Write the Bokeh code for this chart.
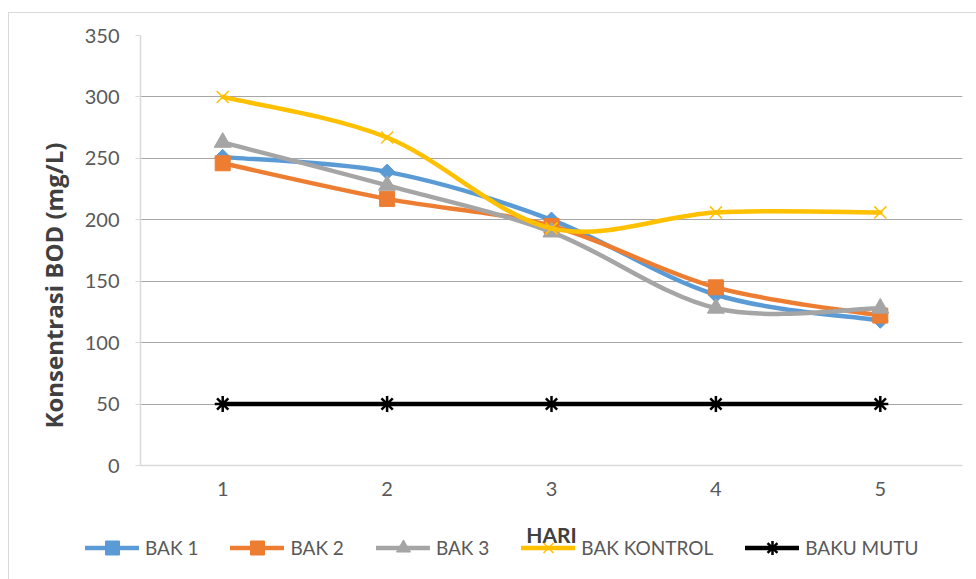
from bokeh.plotting import figure
from bokeh.layouts import column
from bokeh.models import Range1d, FixedTicker, Legend, LegendItem, Title, Label
from bokeh.embed import file_html
from bokeh.resources import INLINE

# Days of observation
hari = [1, 2, 3, 4, 5]

# BOD concentration (mg/L) per tank
bak_1 = [251, 239, 200, 139, 118]
bak_2 = [246, 217, 195, 145, 122]
bak_3 = [263, 228, 190, 128, 128]
bak_kontrol = [300, 267, 193, 206, 206]
baku_mutu = [50, 50, 50, 50, 50]

y_ticks = [0, 50, 100, 150, 200, 250, 300, 350]

FONT = "Lato"
TXT = "#595959"
TITLE_TXT = "#404040"

p = figure(width=967, height=497, output_backend="svg", toolbar_location=None,
           x_range=Range1d(0.5, 5.5), y_range=Range1d(0, 350),
           min_border_left=131, min_border_right=14, min_border_top=22,
           min_border_bottom=45)
p.outline_line_color = None
p.background_fill_color = "white"
p.border_fill_color = "white"

# axes
p.xaxis.ticker = FixedTicker(ticks=hari)
p.yaxis.ticker = FixedTicker(ticks=y_ticks)
for ax in (p.xaxis[0], p.yaxis[0]):
    ax.axis_line_color = "#d9d9d9"
    ax.axis_line_width = 1.5
    ax.major_label_text_font = FONT
    ax.major_label_text_color = TXT
    ax.major_label_text_font_size = "20px"
    ax.minor_tick_line_color = None
p.xaxis.major_tick_line_color = None
p.xaxis.major_label_standoff = 10
p.yaxis.major_tick_line_color = "#d9d9d9"
p.yaxis.major_tick_out = 5
p.yaxis.major_tick_in = 0
p.yaxis.major_label_standoff = 16

p.xgrid.grid_line_color = None
p.ygrid.grid_line_color = "#a6a6a6"
p.ygrid.grid_line_width = 1

# y-axis title, set slightly below the middle of the axis
p.add_layout(Title(text="Konsentrasi BOD (mg/L)", align="left", offset=37,
                   text_font="Open Sans", text_font_style="bold",
                   text_font_size="24px", text_color=TITLE_TXT, standoff=23),
             "left")


def smooth(xs, ys):
    """Cubic Bezier pieces through each point (Catmull-Rom, tension 1/6)."""
    n = len(xs)
    d = dict(x0=[], y0=[], x1=[], y1=[], cx0=[], cy0=[], cx1=[], cy1=[])
    for i in range(n - 1):
        a = max(i - 1, 0)
        b = min(i + 2, n - 1)
        d["x0"].append(xs[i]); d["y0"].append(ys[i])
        d["x1"].append(xs[i + 1]); d["y1"].append(ys[i + 1])
        d["cx0"].append(xs[i] + (xs[i + 1] - xs[a]) / 6)
        d["cy0"].append(ys[i] + (ys[i + 1] - ys[a]) / 6)
        d["cx1"].append(xs[i + 1] - (xs[b] - xs[i]) / 6)
        d["cy1"].append(ys[i + 1] - (ys[b] - ys[i]) / 6)
    return d


# name, values, colour, marker, size, marker angle, marker line width
series = [
    ("BAK 1", bak_1, "#5b9bd5", "square", 11, 0.785398, 1),
    ("BAK 2", bak_2, "#ed7d31", "square", 15, 0, 1),
    ("BAK 3", bak_3, "#a5a5a5", "triangle", 17, 0, 1),
    ("BAK KONTROL", bak_kontrol, "#ffc000", "x", 17, 0, 1.5),
    ("BAKU MUTU", baku_mutu, "#000000", "asterisk", 16, 0, 2.5),
]

# strip under the chart: x-axis title and legend (one data unit = one pixel)
STRIP_W, STRIP_H = 967, 69
strip = figure(width=STRIP_W, height=STRIP_H, output_backend="svg",
               toolbar_location=None,
               x_range=Range1d(0, STRIP_W), y_range=Range1d(0, STRIP_H),
               x_axis_location=None, y_axis_location=None,
               min_border=0, min_border_left=0, min_border_right=0,
               min_border_top=0, min_border_bottom=0)
strip.frame_align = False
strip.grid.visible = False
strip.outline_line_color = None

# x-axis title centred under the plot frame
strip.add_layout(Label(x=(131 + STRIP_W - 14) / 2, y=45, text="HARI",
                       text_align="center", text_baseline="middle",
                       text_font=FONT, text_font_style="bold",
                       text_font_size="21px", text_color=TITLE_TXT))

items = []
for name, vals, color, marker, size, ang, mlw in series:
    p.bezier(source=smooth(hari, vals), x0="x0", y0="y0", x1="x1", y1="y1",
             cx0="cx0", cy0="cy0", cx1="cx1", cy1="cy1",
             line_color=color, line_width=4.5, line_cap="round")
    mk = dict(marker=marker, size=size, angle=ang, line_color=color, line_width=mlw,
              fill_color=None if marker in ("x", "asterisk") else color)
    p.scatter(hari, vals, **mk)
    # legend swatches: same styles, parked outside the strip's visible range
    sw_line = strip.line([-50, -40], [-50, -50], line_color=color, line_width=4.5,
                         line_cap="round")
    sw_pt = strip.scatter([-50], [-50], **mk)
    items.append(LegendItem(label=name, renderers=[sw_line, sw_pt]))

legend = Legend(items=items, orientation="horizontal", location=(76, 14),
                label_text_font=FONT, label_text_font_size="19px",
                label_text_color=TXT, glyph_width=54, glyph_height=35,
                label_standoff=6, spacing=32, padding=0, margin=0,
                border_line_color=None, background_fill_alpha=0)
strip.add_layout(legend)

# thin light border on the top and left edges of the whole chart
layout = column(p, strip, spacing=0, margin=(12, 0, 0, 8),
                styles={"border-left": "1px solid #d9d9d9",
                        "border-top": "1px solid #d9d9d9"})

open("out.html", "w").write(file_html(layout, INLINE))
